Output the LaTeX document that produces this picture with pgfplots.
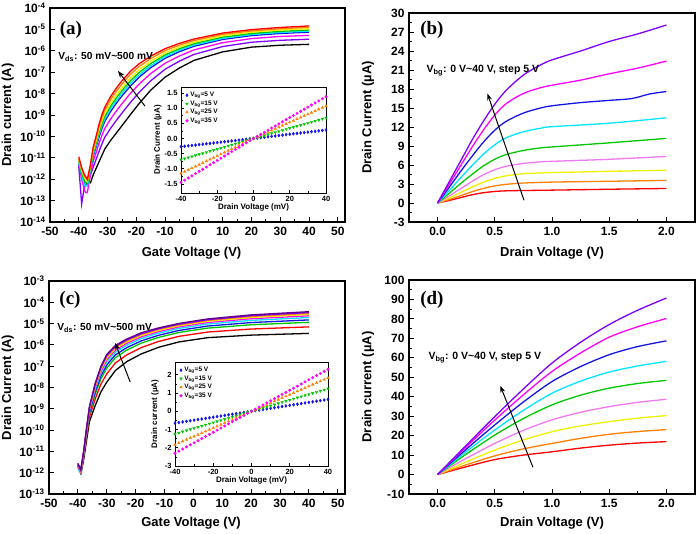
\documentclass[border=0pt]{standalone}
\usepackage{fontspec}
\setmainfont{Liberation Sans}
\newfontfamily\serifbf{Liberation Serif}
\usepackage{pgfplots}
\usepackage{pgfplotstable}
\pgfplotsset{compat=1.18}
\usetikzlibrary{arrows.meta}

\definecolor{cRed}{RGB}{255,0,0}
\definecolor{cOrange}{RGB}{255,128,0}
\definecolor{cYellow}{RGB}{240,240,0}
\definecolor{cPink}{RGB}{240,120,240}
\definecolor{cGreen}{RGB}{0,200,0}
\definecolor{cCyan}{RGB}{0,230,255}
\definecolor{cBlue}{RGB}{20,20,230}
\definecolor{cMagenta}{RGB}{255,0,255}
\definecolor{cViolet}{RGB}{128,0,255}
\definecolor{cPurple}{RGB}{100,0,140}

\pgfplotstableread{
x b g o m
-40 -0.27 -0.7 -1.15 -1.45
-38 -0.2565 -0.665 -1.0925 -1.3775
-36 -0.243 -0.63 -1.035 -1.305
-34 -0.2295 -0.595 -0.9775 -1.2325
-32 -0.216 -0.56 -0.92 -1.16
-30 -0.2025 -0.525 -0.8625 -1.0875
-28 -0.189 -0.49 -0.805 -1.015
-26 -0.1755 -0.455 -0.7475 -0.9425
-24 -0.162 -0.42 -0.69 -0.87
-22 -0.1485 -0.385 -0.6325 -0.7975
-20 -0.135 -0.35 -0.575 -0.725
-18 -0.1215 -0.315 -0.5175 -0.6525
-16 -0.108 -0.28 -0.46 -0.58
-14 -0.0945 -0.245 -0.4025 -0.5075
-12 -0.081 -0.21 -0.345 -0.435
-10 -0.0675 -0.175 -0.2875 -0.3625
-8 -0.054 -0.14 -0.23 -0.29
-6 -0.0405 -0.105 -0.1725 -0.2175
-4 -0.027 -0.07 -0.115 -0.145
-2 -0.0135 -0.035 -0.0575 -0.0725
0 0 0 0 0
2 0.014 0.034 0.0535 0.069
4 0.028 0.068 0.107 0.138
6 0.042 0.102 0.1605 0.207
8 0.056 0.136 0.214 0.276
10 0.07 0.17 0.2675 0.345
12 0.084 0.204 0.321 0.414
14 0.098 0.238 0.3745 0.483
16 0.112 0.272 0.428 0.552
18 0.126 0.306 0.4815 0.621
20 0.14 0.34 0.535 0.69
22 0.154 0.374 0.5885 0.759
24 0.168 0.408 0.642 0.828
26 0.182 0.442 0.6955 0.897
28 0.196 0.476 0.749 0.966
30 0.21 0.51 0.8025 1.035
32 0.224 0.544 0.856 1.104
34 0.238 0.578 0.9095 1.173
36 0.252 0.612 0.963 1.242
38 0.266 0.646 1.0165 1.311
40 0.28 0.68 1.07 1.38
}\insetA

\pgfplotstableread{
x b g o m
-40 -0.65 -1.24 -1.83 -2.3
-38 -0.6175 -1.178 -1.7385 -2.185
-36 -0.585 -1.116 -1.647 -2.07
-34 -0.5525 -1.054 -1.5555 -1.955
-32 -0.52 -0.992 -1.464 -1.84
-30 -0.4875 -0.93 -1.3725 -1.725
-28 -0.455 -0.868 -1.281 -1.61
-26 -0.4225 -0.806 -1.1895 -1.495
-24 -0.39 -0.744 -1.098 -1.38
-22 -0.3575 -0.682 -1.0065 -1.265
-20 -0.325 -0.62 -0.915 -1.15
-18 -0.2925 -0.558 -0.8235 -1.035
-16 -0.26 -0.496 -0.732 -0.92
-14 -0.2275 -0.434 -0.6405 -0.805
-12 -0.195 -0.372 -0.549 -0.69
-10 -0.1625 -0.31 -0.4575 -0.575
-8 -0.13 -0.248 -0.366 -0.46
-6 -0.0975 -0.186 -0.2745 -0.345
-4 -0.065 -0.124 -0.183 -0.23
-2 -0.0325 -0.062 -0.0915 -0.115
0 0 0 0 0
2 0.0325 0.062 0.0915 0.115
4 0.065 0.124 0.183 0.23
6 0.0975 0.186 0.2745 0.345
8 0.13 0.248 0.366 0.46
10 0.1625 0.31 0.4575 0.575
12 0.195 0.372 0.549 0.69
14 0.2275 0.434 0.6405 0.805
16 0.26 0.496 0.732 0.92
18 0.2925 0.558 0.8235 1.035
20 0.325 0.62 0.915 1.15
22 0.3575 0.682 1.0065 1.265
24 0.39 0.744 1.098 1.38
26 0.4225 0.806 1.1895 1.495
28 0.455 0.868 1.281 1.61
30 0.4875 0.93 1.3725 1.725
32 0.52 0.992 1.464 1.84
34 0.5525 1.054 1.5555 1.955
36 0.585 1.116 1.647 2.07
38 0.6175 1.178 1.7385 2.185
40 0.65 1.24 1.83 2.3
}\insetC

\pgfplotsset{
  mainax/.style={
    scale only axis, anchor=south west,
    axis line style={line width=1.2pt},
    tick align=inside, xtick pos=left, ytick pos=left,
    major tick length=5pt, minor tick length=3pt,
    tick style={black, line width=0.9pt},
    tick label style={font=\fontsize{12}{12}\selectfont\bfseries},
    xticklabel style={yshift=-2pt},
    yticklabel style={xshift=-1pt},
    label style={font=\fontsize{13}{13}\selectfont\bfseries},
    /pgf/number format/assume math mode=true,
    no markers,
  },
  insetax/.style={
    scale only axis, anchor=south west,
    axis background/.style={fill=white},
    axis line style={line width=0.8pt},
    tick align=inside, xtick pos=left, ytick pos=left,
    major tick length=3pt, minor tick length=1.8pt,
    tick style={black, line width=0.6pt},
    tick label style={font=\fontsize{7.5}{7.5}\selectfont\bfseries},
    label style={font=\fontsize{8}{8}\selectfont\bfseries},
    /pgf/number format/assume math mode=true,
    xmin=-40, xmax=40, xtick={-40,-20,0,20,40}, minor x tick num=1,
    xlabel={Drain Voltage (mV)},
    legend style={draw=none, fill=none, font=\fontsize{6.5}{7}\selectfont\bfseries,
      row sep=-1.5pt, legend cell align=left, at={(0.01,0.99)}, anchor=north west},
  },
  logylab/.style={yticklabel={10\textsuperscript{\pgfmathparse{int(round(\tick))}\pgfmathresult}}},
}

\begin{document}
\begin{tikzpicture}
\useasboundingbox (0,0) rectangle (700pt,534pt);

%% ---------------- (a) ----------------
\begin{axis}[mainax, at={(50pt,312pt)}, width=295pt, height=214pt,
  xmin=-50, xmax=52.5, xtick={-50,-40,...,50}, minor x tick num=1,
  ymode=log, log basis y=10, ymin=1e-14, ymax=1e-4, ytickten={-14,-13,...,-4}, logylab,
  xlabel={Gate Voltage (V)}, ylabel={Drain current (A)},
  xlabel style={at={(axis description cs:0.48,-0.145)}, anchor=center},
  ylabel style={at={(axis description cs:-0.143,0.5)}, anchor=center}]
\addplot[black, line width=1.3pt] coordinates {(-36,6.31e-13) (-35,1.58e-12) (-34,3.16e-12) (-33,6.31e-12) (-32,1.26e-11) (-31,2.51e-11) (-29,6.31e-11) (-27,1.41e-10) (-25,3.16e-10) (-22,1.07e-9) (-19,3.47e-9) (-15,1.45e-8) (-10,5.89e-8) (-5,1.58e-7) (0,3.55e-7) (10,8.91e-7) (20,1.48e-6) (30,1.82e-6) (40,2.0e-6)};
\addplot[cViolet, line width=1.3pt] coordinates {(-40,4e-12) (-39,7e-14) (-38,5e-13) (-37,5e-13) (-36,1.5e-12) (-35,3.63e-12) (-34,8.32e-12) (-33,1.95e-11) (-32,4.27e-11) (-31,8.91e-11) (-29,2.34e-10) (-27,5.5e-10) (-25,1.23e-9) (-22,3.98e-9) (-19,1.15e-8) (-15,3.98e-8) (-10,1.38e-7) (-5,3.31e-7) (0,6.76e-7) (10,1.58e-6) (20,2.51e-6) (30,3.09e-6) (40,3.47e-6)};
\addplot[cMagenta, line width=1.3pt] coordinates {(-40,5e-12) (-39,1e-12) (-38,3e-13) (-37.5,2.3e-13) (-37,2.5e-13) (-36,1.5e-12) (-35,6.92e-12) (-34,1.70e-11) (-33,4.57e-11) (-32,1.07e-10) (-31,2.29e-10) (-29,6.31e-10) (-27,1.51e-9) (-25,3.39e-9) (-22,1.05e-8) (-19,2.82e-8) (-15,8.71e-8) (-10,2.63e-7) (-5,5.75e-7) (0,1.10e-6) (10,2.40e-6) (20,3.72e-6) (30,4.68e-6) (40,5.25e-6)};
\addplot[cBlue, line width=1.3pt] coordinates {(-40,5e-12) (-39,1.5e-12) (-38,6e-13) (-37,6e-13) (-36,2.5e-12) (-35,1.15e-11) (-34,3.09e-11) (-33,8.91e-11) (-32,2.24e-10) (-31,4.9e-10) (-29,1.41e-9) (-27,3.47e-9) (-25,7.76e-9) (-22,2.29e-8) (-19,5.89e-8) (-15,1.62e-7) (-10,4.47e-7) (-5,9.12e-7) (0,1.62e-6) (10,3.39e-6) (20,5.13e-6) (30,6.46e-6) (40,7.41e-6)};
\addplot[cCyan, line width=1.3pt] coordinates {(-40,6e-12) (-39,1.5e-12) (-38,5e-13) (-37,5e-13) (-36,2.5e-12) (-35,1.38e-11) (-34,3.80e-11) (-33,1.15e-10) (-32,2.95e-10) (-31,6.31e-10) (-29,1.91e-9) (-27,4.57e-9) (-25,1.02e-8) (-22,3.02e-8) (-19,7.59e-8) (-15,2.0e-7) (-10,5.37e-7) (-5,1.07e-6) (0,1.86e-6) (10,3.80e-6) (20,5.75e-6) (30,7.24e-6) (40,8.32e-6)};
\addplot[cGreen, line width=1.3pt] coordinates {(-40,7e-12) (-39,2e-12) (-38,8e-13) (-37,6e-13) (-36,3e-12) (-35,1.62e-11) (-34,4.68e-11) (-33,1.45e-10) (-32,3.80e-10) (-31,8.32e-10) (-29,2.51e-9) (-27,6.17e-9) (-25,1.38e-8) (-22,4.07e-8) (-19,9.77e-8) (-15,2.51e-7) (-10,6.46e-7) (-5,1.26e-6) (0,2.14e-6) (10,4.37e-6) (20,6.46e-6) (30,8.13e-6) (40,9.33e-6)};
\addplot[cYellow, line width=1.3pt] coordinates {(-40,8e-12) (-39,2.5e-12) (-38,1.2e-12) (-37,8e-13) (-36,3.5e-12) (-35,2.0e-11) (-34,5.89e-11) (-33,1.95e-10) (-32,5.13e-10) (-31,1.15e-9) (-29,3.47e-9) (-27,8.51e-9) (-25,1.91e-8) (-22,5.62e-8) (-19,1.32e-7) (-15,3.24e-7) (-10,7.94e-7) (-5,1.51e-6) (0,2.51e-6) (10,5.01e-6) (20,7.41e-6) (30,9.33e-6) (40,1.07e-5)};
\addplot[cOrange, line width=1.3pt] coordinates {(-40,9e-12) (-39,3e-12) (-38,1.4e-12) (-37,9e-13) (-36,4e-12) (-35,2.57e-11) (-34,7.76e-11) (-33,2.69e-10) (-32,7.41e-10) (-31,1.62e-9) (-29,5.13e-9) (-27,1.26e-8) (-25,2.82e-8) (-22,8.13e-8) (-19,1.86e-7) (-15,4.37e-7) (-10,1.02e-6) (-5,1.86e-6) (0,3.02e-6) (10,5.89e-6) (20,8.51e-6) (30,1.07e-5) (40,1.26e-5)};
\addplot[cRed, line width=1.3pt] coordinates {(-40,1.12e-11) (-39,3.5e-12) (-38,1.6e-12) (-37,1e-12) (-36,4.5e-12) (-35,3.16e-11) (-34,1e-10) (-33,3.55e-10) (-32,1e-9) (-31,2.24e-9) (-29,7.08e-9) (-27,1.78e-8) (-25,3.98e-8) (-22,1.12e-7) (-19,2.51e-7) (-15,5.62e-7) (-10,1.26e-6) (-5,2.24e-6) (0,3.55e-6) (10,6.76e-6) (20,9.77e-6) (30,1.23e-5) (40,1.45e-5)};
\node[anchor=west, font=\fontsize{10.2}{10.2}\selectfont\bfseries] at (axis cs:-48.3,5.1e-7) {V\textsubscript{ds}: 50 mV\textasciitilde500 mV};
\draw[-{Stealth[length=7pt,width=5pt]}, line width=1pt] (axis cs:-17,2.6e-9) -- (axis cs:-26.4,1.15e-7);
\node[font=\fontsize{19}{19}\serifbf\bfseries] at (axis description cs:0.071,0.897) {(a)};
\end{axis}

\begin{axis}[insetax, at={(181pt,341pt)}, width=145pt, height=106pt,
  ymin=-1.8, ymax=1.7, ytick={-1.5,-1.0,-0.5,0,0.5,1.0,1.5}, minor y tick num=1,
  yticklabel style={/pgf/number format/.cd, fixed, fixed zerofill, precision=1},
  ylabel={Drain Current (µA)},
  xlabel style={at={(axis description cs:0.5,-0.14)}, anchor=center},
  ylabel style={at={(axis description cs:-0.16,0.5)}, anchor=center}]
\addplot[only marks, mark=diamond*, mark size=1.5pt, cBlue] table[x=x,y=b]{\insetA};
\addlegendentry{V\textsubscript{bg}=5 V}
\addplot[only marks, mark=triangle*, mark options={rotate=180}, mark size=1.5pt, cGreen] table[x=x,y=g]{\insetA};
\addlegendentry{V\textsubscript{bg}=15 V}
\addplot[only marks, mark=triangle*, mark size=1.5pt, cOrange] table[x=x,y=o]{\insetA};
\addlegendentry{V\textsubscript{bg}=25 V}
\addplot[only marks, mark=*, mark size=1.3pt, cMagenta] table[x=x,y=m]{\insetA};
\addlegendentry{V\textsubscript{bg}=35 V}
\end{axis}

%% ---------------- (b) ----------------
\begin{axis}[mainax, at={(409pt,312pt)}, width=286pt, height=209pt,
  xmin=-0.25, xmax=2.25, xtick={0,0.5,1,1.5,2}, minor x tick num=1,
  xticklabel style={/pgf/number format/.cd, fixed, fixed zerofill, precision=1},
  ymin=-3, ymax=30, ytick={-3,0,...,30}, minor y tick num=1,
  xlabel={Drain Voltage (V)}, ylabel={Drain Current (µA)},
  xlabel style={at={(axis description cs:0.5,-0.148)}, anchor=center},
  ylabel style={at={(axis description cs:-0.143,0.5)}, anchor=center}]
\addplot[cRed, line width=1.3pt, smooth] coordinates {(0,0) (0.1,0.4) (0.2,0.85) (0.3,1.3) (0.4,1.62) (0.5,1.82) (0.6,1.92) (0.75,1.97) (1.0,2.03) (1.5,2.17) (2.0,2.29)};
\addplot[cOrange, line width=1.3pt, smooth] coordinates {(0,0) (0.1,0.55) (0.2,1.15) (0.3,1.78) (0.4,2.3) (0.5,2.7) (0.6,2.95) (0.75,3.15) (1.0,3.3) (1.5,3.43) (2.0,3.57)};
\addplot[cYellow, line width=1.3pt, smooth] coordinates {(0,0) (0.1,0.8) (0.2,1.65) (0.3,2.5) (0.4,3.28) (0.5,3.88) (0.6,4.3) (0.75,4.62) (0.9,4.75) (1.0,4.8) (1.5,5.0) (2.0,5.17)};
\addplot[cPink, line width=1.3pt, smooth] coordinates {(0,0) (0.1,1.1) (0.2,2.25) (0.3,3.4) (0.4,4.45) (0.5,5.25) (0.6,5.8) (0.75,6.25) (0.9,6.5) (1.0,6.58) (1.5,6.9) (2.0,7.35)};
\addplot[cGreen, line width=1.3pt, smooth] coordinates {(0,0) (0.1,1.5) (0.2,3.05) (0.3,4.5) (0.4,5.85) (0.5,6.9) (0.6,7.65) (0.75,8.3) (0.9,8.7) (1.0,8.85) (1.5,9.5) (2.0,10.2)};
\addplot[cCyan, line width=1.3pt, smooth] coordinates {(0,0) (0.1,1.95) (0.2,3.95) (0.3,5.9) (0.4,7.7) (0.5,9.2) (0.6,10.3) (0.75,11.25) (0.9,11.8) (1.0,12.05) (1.5,12.6) (2.0,13.45)};
\addplot[cBlue, line width=1.3pt, smooth] coordinates {(0,0) (0.1,2.45) (0.2,4.95) (0.3,7.35) (0.4,9.6) (0.5,11.5) (0.6,12.9) (0.75,14.2) (0.9,15.0) (1.0,15.35) (1.25,15.85) (1.5,16.2) (1.7,16.5) (1.85,17.2) (2.0,17.6)};
\addplot[cMagenta, line width=1.3pt, smooth] coordinates {(0,0) (0.1,2.9) (0.2,5.85) (0.3,8.8) (0.4,11.5) (0.5,13.9) (0.6,15.7) (0.75,17.3) (0.9,18.2) (1.0,18.6) (1.25,19.4) (1.5,20.4) (1.75,21.3) (2.0,22.4)};
\addplot[cViolet, line width=1.3pt, smooth] coordinates {(0,0) (0.1,3.3) (0.2,6.6) (0.3,9.9) (0.4,12.9) (0.5,15.6) (0.6,17.8) (0.75,20.2) (0.9,21.8) (1.0,22.6) (1.25,24.0) (1.5,25.5) (1.75,26.7) (2.0,28.1)};
\node[anchor=west, font=\fontsize{10.5}{10.5}\selectfont\bfseries] at (axis cs:-0.127,20.95) {V\textsubscript{bg}: 0 V\textasciitilde40 V, step 5 V};
\draw[-{Stealth[length=7pt,width=5pt]}, line width=1pt] (axis cs:0.755,0.43) -- (axis cs:0.435,17.3);
\node[font=\fontsize{19}{19}\serifbf\bfseries] at (axis description cs:0.08,0.919) {(b)};
\end{axis}

%% ---------------- (c) ----------------
\begin{axis}[mainax, at={(49pt,40pt)}, width=296pt, height=213pt,
  xmin=-50, xmax=52.5, xtick={-50,-40,...,50}, minor x tick num=1,
  ymode=log, log basis y=10, ymin=1e-13, ymax=1e-3, ytickten={-13,-12,...,-3}, logylab,
  xlabel={Gate Voltage (V)}, ylabel={Drain Current (A)},
  xlabel style={at={(axis description cs:0.48,-0.136)}, anchor=center},
  ylabel style={at={(axis description cs:-0.139,0.5)}, anchor=center}]
\addplot[black, line width=1.3pt] coordinates {(-39,8e-13) (-38,4e-12) (-37,3.2e-11) (-36,2.51e-10) (-34,1.41e-9) (-32,6.31e-9) (-30,1.78e-8) (-27,6.31e-8) (-23,1.66e-7) (-18,3.80e-7) (-12,7.76e-7) (-5,1.38e-6) (5,2.19e-6) (20,2.88e-6) (40,3.47e-6)};
\addplot[cRed, line width=1.3pt] coordinates {(-40,2.2e-12) (-39,1e-12) (-38,5.25e-12) (-37,4.79e-11) (-36,4.07e-10) (-34,2.92e-9) (-32,1.45e-8) (-30,4.37e-8) (-27,1.43e-7) (-23,3.45e-7) (-18,7.53e-7) (-12,1.46e-6) (-5,2.52e-6) (5,4.02e-6) (20,5.56e-6) (40,7.01e-6)};
\addplot[cGreen, line width=1.3pt] coordinates {(-40,1.8e-12) (-39,1e-12) (-38,6.37e-12) (-37,6.4e-11) (-36,5.71e-10) (-34,4.85e-9) (-32,2.58e-8) (-30,8.18e-8) (-27,2.52e-7) (-23,5.77e-7) (-18,1.22e-6) (-12,2.26e-6) (-5,3.84e-6) (5,6.15e-6) (20,8.81e-6) (40,1.15e-5)};
\addplot[cBlue, line width=1.3pt] coordinates {(-40,2.5e-12) (-39,1.1e-12) (-38,7.05e-12) (-37,7.45e-11) (-36,6.82e-10) (-34,6.32e-9) (-32,3.50e-8) (-30,1.14e-7) (-27,3.40e-7) (-23,7.53e-7) (-18,1.56e-6) (-12,2.84e-6) (-5,4.78e-6) (5,7.69e-6) (20,1.12e-5) (40,1.49e-5)};
\addplot[cCyan, line width=1.3pt] coordinates {(-40,1.6e-12) (-39,9e-13) (-38,7.8e-12) (-37,8.67e-11) (-36,8.15e-10) (-34,8.25e-9) (-32,4.74e-8) (-30,1.58e-7) (-27,4.58e-7) (-23,9.86e-7) (-18,2.01e-6) (-12,3.58e-6) (-5,5.96e-6) (5,9.59e-6) (20,1.42e-5) (40,1.93e-5)};
\addplot[cMagenta, line width=1.3pt] coordinates {(-40,2e-12) (-39,1e-12) (-38,8.4e-12) (-37,9.68e-11) (-36,9.27e-10) (-34,1.0e-8) (-32,5.92e-8) (-30,2.01e-7) (-27,5.70e-7) (-23,1.20e-6) (-18,2.41e-6) (-12,4.24e-6) (-5,7.0e-6) (5,1.13e-5) (20,1.70e-5) (40,2.32e-5)};
\addplot[cYellow, line width=1.3pt] coordinates {(-40,2.3e-12) (-39,1.2e-12) (-38,8.87e-12) (-37,1.05e-10) (-36,1.02e-9) (-34,1.16e-8) (-32,6.98e-8) (-30,2.40e-7) (-27,6.71e-7) (-23,1.39e-6) (-18,2.76e-6) (-12,4.81e-6) (-5,7.89e-6) (5,1.28e-5) (20,1.93e-5) (40,2.67e-5)};
\addplot[cOrange, line width=1.3pt] coordinates {(-40,2.6e-12) (-39,1.1e-12) (-38,9.3e-12) (-37,1.13e-10) (-36,1.11e-9) (-34,1.31e-8) (-32,8.02e-8) (-30,2.79e-7) (-27,7.69e-7) (-23,1.57e-6) (-18,3.10e-6) (-12,5.33e-6) (-5,8.71e-6) (5,1.41e-5) (20,2.16e-5) (40,3.01e-5)};
\addplot[cViolet, line width=1.3pt] coordinates {(-40,2.4e-12) (-39,1.3e-12) (-38,9.6e-12) (-37,1.19e-10) (-36,1.18e-9) (-34,1.44e-8) (-32,8.95e-8) (-30,3.15e-7) (-27,8.57e-7) (-23,1.73e-6) (-18,3.39e-6) (-12,5.81e-6) (-5,9.44e-6) (5,1.53e-5) (20,2.36e-5) (40,3.30e-5)};
\addplot[cPurple, line width=1.3pt] coordinates {(-40,2.8e-12) (-39,1.4e-12) (-38,1e-11) (-37,1.26e-10) (-36,1.26e-9) (-34,1.58e-8) (-32,1e-7) (-30,3.55e-7) (-27,9.55e-7) (-23,1.91e-6) (-18,3.72e-6) (-12,6.31e-6) (-5,1.02e-5) (5,1.66e-5) (20,2.57e-5) (40,3.63e-5)};
\node[anchor=west, font=\fontsize{10.2}{10.2}\selectfont\bfseries] at (axis cs:-48.3,6.2e-6) {V\textsubscript{ds}: 50 mV\textasciitilde500 mV};
\draw[-{Stealth[length=7pt,width=5pt]}, line width=1pt] (axis cs:-21.9,1.82e-8) -- (axis cs:-27.1,1.23e-6);
\node[font=\fontsize{19}{19}\serifbf\bfseries] at (axis description cs:0.071,0.911) {(c)};
\end{axis}

\begin{axis}[insetax, at={(175pt,68pt)}, width=153pt, height=104pt,
  ymin=-3, ymax=2.7, ytick={-3,-2,-1,0,1,2}, minor y tick num=1,
  ylabel={Drain current (µA)},
  xlabel style={at={(axis description cs:0.5,-0.135)}, anchor=center},
  ylabel style={at={(axis description cs:-0.13,0.5)}, anchor=center}]
\addplot[only marks, mark=diamond*, mark size=1.5pt, cBlue] table[x=x,y=b]{\insetC};
\addlegendentry{V\textsubscript{bg}=5 V}
\addplot[only marks, mark=triangle*, mark options={rotate=180}, mark size=1.5pt, cGreen] table[x=x,y=g]{\insetC};
\addlegendentry{V\textsubscript{bg}=15 V}
\addplot[only marks, mark=triangle*, mark size=1.5pt, cOrange] table[x=x,y=o]{\insetC};
\addlegendentry{V\textsubscript{bg}=25 V}
\addplot[only marks, mark=*, mark size=1.3pt, cMagenta] table[x=x,y=m]{\insetC};
\addlegendentry{V\textsubscript{bg}=35 V}
\end{axis}

%% ---------------- (d) ----------------
\begin{axis}[mainax, at={(409pt,40pt)}, width=286pt, height=214pt,
  xmin=-0.25, xmax=2.25, xtick={0,0.5,1,1.5,2}, minor x tick num=1,
  xticklabel style={/pgf/number format/.cd, fixed, fixed zerofill, precision=1},
  ymin=-10, ymax=100, ytick={-10,0,...,100}, minor y tick num=1,
  xlabel={Drain Voltage (V)}, ylabel={Drain current (µA)},
  xlabel style={at={(axis description cs:0.5,-0.136)}, anchor=center},
  ylabel style={at={(axis description cs:-0.143,0.5)}, anchor=center}]
\addplot[cRed, line width=1.3pt, smooth] coordinates {(0,0) (0.25,4.0) (0.5,7.7) (0.75,10.0) (1.0,11.7) (1.25,13.6) (1.5,15.1) (1.75,16.2) (2.0,16.9)};
\addplot[cOrange, line width=1.3pt, smooth] coordinates {(0,0) (0.25,5.0) (0.5,9.6) (0.75,13.2) (1.0,16.0) (1.25,18.6) (1.5,20.7) (1.75,22.1) (2.0,23.1)};
\addplot[cYellow, line width=1.3pt, smooth] coordinates {(0,0) (0.25,6.5) (0.5,12.6) (0.75,17.8) (1.0,22.0) (1.25,25.0) (1.5,27.2) (1.75,29.0) (2.0,30.3)};
\addplot[cPink, line width=1.3pt, smooth] coordinates {(0,0) (0.25,8.3) (0.5,16.0) (0.75,22.7) (1.0,28.1) (1.25,32.0) (1.5,34.9) (1.75,37.1) (2.0,38.7)};
\addplot[cGreen, line width=1.3pt, smooth] coordinates {(0,0) (0.25,10.5) (0.5,20.3) (0.75,28.8) (1.0,35.8) (1.25,40.8) (1.5,44.4) (1.75,46.8) (2.0,48.4)};
\addplot[cCyan, line width=1.3pt, smooth] coordinates {(0,0) (0.25,11.8) (0.5,22.9) (0.75,33.0) (1.0,41.8) (1.25,48.0) (1.5,52.7) (1.75,55.8) (2.0,58.2)};
\addplot[cBlue, line width=1.3pt, smooth] coordinates {(0,0) (0.25,13.0) (0.5,25.5) (0.75,37.3) (1.0,47.8) (1.25,55.5) (1.5,61.6) (1.75,65.8) (2.0,68.7)};
\addplot[cMagenta, line width=1.3pt, smooth] coordinates {(0,0) (0.25,14.2) (0.5,28.0) (0.75,41.0) (1.0,53.0) (1.25,62.5) (1.5,70.6) (1.75,76.0) (2.0,80.2)};
\addplot[cViolet, line width=1.3pt, smooth] coordinates {(0,0) (0.25,15.0) (0.5,29.8) (0.75,44.0) (1.0,57.3) (1.25,68.0) (1.5,77.1) (1.75,84.5) (2.0,90.7)};
\node[anchor=west, font=\fontsize{10.5}{10.5}\selectfont\bfseries] at (axis cs:-0.11,60) {V\textsubscript{bg}: 0 V\textasciitilde40 V, step 5 V};
\draw[-{Stealth[length=7pt,width=5pt]}, line width=1pt] (axis cs:0.833,3.8) -- (axis cs:0.548,45.6);
\node[font=\fontsize{19}{19}\serifbf\bfseries] at (axis description cs:0.08,0.907) {(d)};
\end{axis}
\end{tikzpicture}
\end{document}
